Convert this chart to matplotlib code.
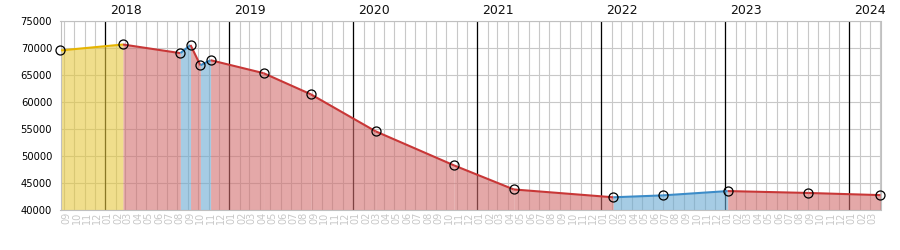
import numpy as np
import pandas as pd
import matplotlib
matplotlib.use('Agg')
import matplotlib.pyplot as plt
import matplotlib.dates as mdates
import matplotlib.transforms as mtransforms

# measurement dates and values
dates = ['2017-08-22', '2018-02-22', '2018-08-10', '2018-09-09', '2018-10-08',
         '2018-11-07', '2019-04-12', '2019-08-29', '2020-03-07', '2020-10-24',
         '2021-04-18', '2022-02-05', '2022-07-01', '2023-01-08', '2023-09-02',
         '2024-04-02']
values = [69500, 70600, 69000, 70500, 66750, 67700, 65300, 61400, 54550, 48250,
          43800, 42350, 42700, 43500, 43150, 42750]
# kind of each segment between two measurements
segkind = ['y', 'r', 'b', 'r', 'b', 'r', 'r', 'r', 'r', 'r', 'r', 'b', 'b', 'r', 'r']

linecol = {'y': '#e6b400', 'r': '#c83737', 'b': '#3c8cc8'}
fillcol = {'y': '#e6c83f', 'r': '#d26e6e', 'b': '#6baad2'}

x = mdates.date2num(pd.to_datetime(dates))
ymin, ymax = 40000, 75000

fig = plt.figure(figsize=(9, 2.5), dpi=100)
ax = fig.add_axes([60.5/900, 1-210/250, 820/900, (210-20.7)/250])

# grid (months + 5000 steps)
months = pd.date_range('2017-09-01', '2024-04-01', freq='MS')
ax.set_xticks(mdates.date2num(months))
ax.set_xticklabels([])
ax.set_yticks(np.arange(ymin, ymax+1, 5000))
ax.grid(True, color='#c8c8c8', lw=0.8)
ax.set_axisbelow(True)
ax.tick_params(length=0, labelsize=7.2, pad=6)
for s in ax.spines.values():
    s.set_color('#c0c0c0')
    s.set_linewidth(0.8)

# year lines
years = pd.date_range('2018-01-01', '2024-01-01', freq='YS')
for yr in years:
    xv = mdates.date2num(yr)
    ax.axvline(xv, color='black', lw=0.9, zorder=1)
    ax.annotate(str(yr.year), xy=(xv, 1), xycoords=('data', 'axes fraction'),
                xytext=(3.5, 3), textcoords='offset points', ha='left', va='bottom',
                fontsize=9, color='#111111')

# month labels
lbl = mdates.date2num(months[:-1]) + 7
for xv, m in zip(lbl, months[:-1]):
    ax.annotate('%02d' % m.month, xy=(xv, 0), xycoords=('data', 'axes fraction'),
                xytext=(0, -1.5), textcoords='offset points', rotation=90,
                ha='center', va='top', fontsize=7, color='#c8c8c8')

# segments
for i, k in enumerate(segkind):
    xs = x[i:i+2]
    ys = values[i:i+2]
    ax.fill_between(xs, ys, ymin, color=fillcol[k], alpha=0.6, lw=0, zorder=2)
    ax.plot(xs, ys, color=linecol[k], lw=1.5, zorder=3, solid_capstyle='butt')

ax.plot(x, values, 'o', ms=6.5, mfc='none', mec='black', mew=0.9, zorder=4,
        clip_on=False)

ax.set_xlim(x[0], x[-1])
ax.set_ylim(ymin, ymax)

fig.savefig('out.png', dpi=100)
